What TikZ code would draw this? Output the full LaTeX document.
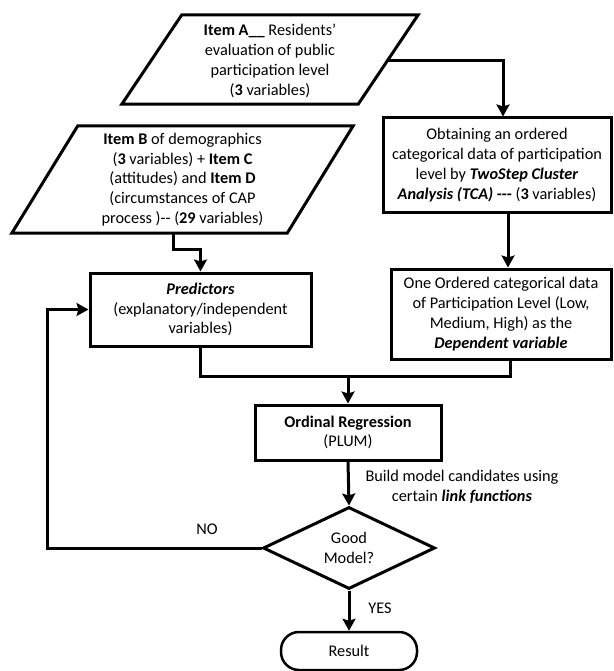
\documentclass[tikz,border=0pt]{standalone}
\usepackage{fontspec}
\setmainfont{Carlito}
\usetikzlibrary{arrows.meta,shapes.geometric,calc}
\begin{document}
\begin{tikzpicture}[x=1pt,y=-1pt,
  txt/.style={align=center, inner sep=0pt, font=\fontsize{16.3}{19.8}\selectfont},
  box/.style={txt, draw, line width=3pt},
  outline/.style={draw, line width=3pt, line join=miter},
  conn/.style={line width=3pt},
  arr/.style={line width=3pt, -{Stealth[length=12pt,width=13pt,inset=2pt]}},
  lbl/.style={align=center, inner sep=0pt, font=\fontsize{16.3}{19.8}\selectfont}]
\useasboundingbox (0,0) rectangle (613,671);

% Item A parallelogram
\node[txt, minimum width=236pt, minimum height=89pt] (A) at (270,61)
  {\textbf{Item A\_\_} Residents’\\ evaluation of public\\ participation level\\ (\textbf{3} variables)};
\draw[outline] ($(A.north west)+(30,-1.5)$) -- ($(A.north east)+(30,-1.5)$)
  -- ($(A.south east)+(-30,-1.5)$) -- ($(A.south west)+(-30,-1.5)$) -- cycle;

% Item B parallelogram
\node[txt, minimum width=275pt, minimum height=107pt] (B) at (182.5,179.5)
  {\textbf{Item B} of demographics\\ (\textbf{3} variables) + \textbf{Item C}\\ (attitudes) and \textbf{Item D}\\ (circumstances of CAP\\ process )-{}- (\textbf{29} variables)};
\draw[outline] ($(B.north west)+(33,0)$) -- ($(B.north east)+(33,0)$)
  -- ($(B.south east)+(-33,0)$) -- ($(B.south west)+(-33,0)$) -- cycle;

% TCA box
\node[box, minimum width=228pt, minimum height=94pt] (TCA) at (497,165)
  {Obtaining an ordered\\ categorical data of participation\\ level by \textbf{\textit{TwoStep Cluster}}\\ \textbf{\textit{Analysis (TCA)}} \textbf{-{}-{}-} (\textbf{3} variables)};

% Dependent box
\node[box, minimum width=220pt, minimum height=90pt] (Dep) at (501,314)
  {One Ordered categorical data\\ of Participation Level (Low,\\ Medium, High) as the\\ \textbf{\textit{Dependent variable}}};

% Predictors box
\node[box, minimum width=221pt, minimum height=73pt] (Pred) at (200.5,309.5)
  {\textbf{\textit{Predictors}}\\ (explanatory/independent\\ variables)};

% Ordinal regression
\node[box, minimum width=186pt, minimum height=55pt] (Ord) at (348,432.5)
  {\textbf{Ordinal Regression}\\ (PLUM)};

% Decision
\node[txt, draw, line width=3pt, shape=diamond, aspect=2.1, minimum width=172pt, minimum height=82pt] (D) at (349,548)
  {Good\\ Model?};

% Result
\node[txt, draw, line width=2.5pt, rounded corners=18pt, minimum width=136pt, minimum height=38pt] (R) at (349,651)
  {\raisebox{-3pt}{Result}};

% labels
\node[lbl] (lab) at (462,487) {Build model candidates using\\ certain \textbf{\textit{link functions}}};
\node[lbl] (no) at (207,529) {NO};
\node[lbl] (yes) at (380,608) {YES};

% connectors
\draw[arr] (A.east) -| ([xshift=6pt]TCA.north);
\draw[arr] ([xshift=11pt]TCA.south) -- ([xshift=11pt]TCA.south |- Dep.north);
\draw[arr] ([xshift=-9.5pt]B.south) -- ++(0,16) -| (Pred.north);
\draw[conn] (Pred.south) -- ++(0,29) coordinate (m1) -| ([xshift=9pt]Dep.south);
\draw[arr] (m1 -| Ord.north) -- (Ord.north);
\draw[arr] (Ord.south) -- (D.north);
\draw[arr] (D.south) -- (R.north);
\draw[arr] (D.west) -- ++(-214,0) |- (Pred.west);
\end{tikzpicture}
\end{document}
